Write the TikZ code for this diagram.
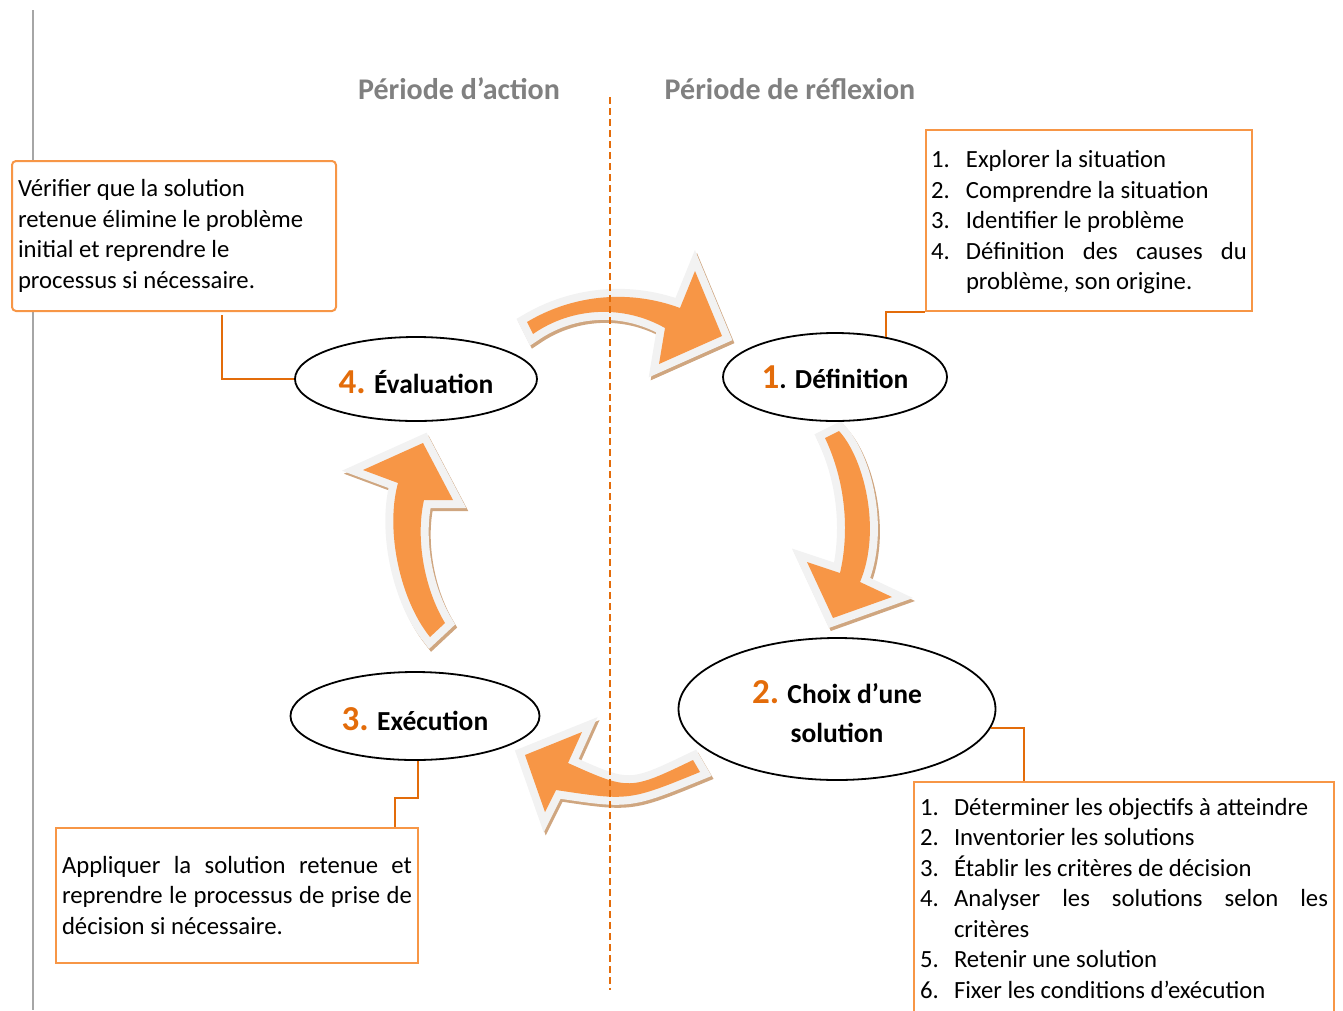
\documentclass[tikz,border=0pt]{standalone}
\usepackage{fontspec}
\setmainfont{Carlito}
\usetikzlibrary{shapes.geometric}
\definecolor{arrorange}{HTML}{F79646}
\definecolor{numor}{HTML}{E36C0A}
\definecolor{bordergray}{HTML}{F2F2F2}
\definecolor{shadowtan}{RGB}{207,166,128}
\definecolor{titlegray}{HTML}{808080}
\definecolor{sidegray}{HTML}{A6A6A6}
\definecolor{boxor}{HTML}{F79646}
\newcommand\officearrow[1]{%
  \path[arrshadow] #1;
  \path[arrborder] #1;
  \path[arrfill] #1;}
\newcommand\lstitem[3]{\par\noindent\hangindent=#1\hangafter=1\makebox[#1][l]{#2}#3\par}
\newcommand\bignum[1]{\textcolor{numor}{\fontsize{35}{40}\selectfont #1}}
\begin{document}
\begin{tikzpicture}[x=1pt,y=-1pt,
  arrshadow/.style={fill=shadowtan,draw=shadowtan,line width=16pt,line join=miter,shift={(2,3)}},
  arrborder/.style={fill=bordergray,draw=bordergray,line width=16pt,line join=miter},
  arrfill/.style={fill=arrorange},
  ell/.style={ellipse,draw=black,line width=1.8pt,inner sep=0pt,font=\fontsize{27.5}{39}\selectfont\bfseries,align=center},
  box/.style={draw=boxor,fill=white,line width=2pt,font=\fontsize{24.7}{30.5}\selectfont,anchor=north west,inner ysep=0pt},
  conn/.style={draw=numor,line width=2pt},
  title/.style={text=titlegray,font=\fontsize{30}{36}\selectfont\bfseries}]

\useasboundingbox (0,0) rectangle (1343,1010);

\draw[sidegray,line width=1.5pt] (33,10) -- (33,1010);

\node[title] (tact) at (459,89) {Période d’action};
\node[title] (trefl) at (790,89) {Période de réflexion};

% curved arrows
\officearrow{(527,322) .. controls (573.2,294.4) and (629.6,289.2) .. (680,308) -- (695,271) -- (722,336) -- (659,364) -- (665,328) .. controls (623.5,304.5) and (572.2,306.8) .. (533,334) -- cycle}
\officearrow{(839,431) .. controls (864,458) and (882,530) .. (860,582) -- (892,597) -- (833,618) -- (807,562) -- (840,573) .. controls (850,530) and (845,480) .. (825,438) -- cycle}
\officearrow{(693,760) .. controls (629.5,790.5) .. (568,763) -- (582,732) -- (525,755) -- (545,812) -- (556,790) .. controls (629,801) .. (700,772) -- cycle}
\officearrow{(445,623) .. controls (425,590) and (415,540) .. (424,500) -- (453,500) -- (423,443) -- (363,470) -- (398,483) .. controls (385,530) and (400,600) .. (430,637) -- cycle}

\draw[numor,line width=1.5pt,dash pattern=on 7pt off 4pt] (610,97) -- (610,990);

% ellipses
\node[ell,minimum width=242pt,minimum height=84pt] (eval) at (416,379) {\rule{0pt}{29pt}\bignum{4.} Évaluation};
\node[ell,minimum width=224pt,minimum height=88pt] (def) at (835,377) {\rule{0pt}{24pt}\bignum{1}. Définition};
\node[ell,minimum width=317pt,minimum height=142pt] (choix) at (837,709) {\rule{0pt}{28.5pt}\bignum{2.} Choix d’une\\solution};
\node[ell,minimum width=249pt,minimum height=88pt] (exec) at (415,716) {\rule{0pt}{30pt}\bignum{3.} Exécution};

% boxes
\node[box,rounded corners=4pt,minimum width=324pt,minimum height=150pt,text width=312pt,inner xsep=6pt,align=flush left] (boxTL) at (11,160)
  {Vérifier que la solution\\retenue élimine le problème\\initial et reprendre le\\processus si nécessaire.};
\node[box,minimum width=326pt,minimum height=181pt,text width=316pt,inner xsep=5pt,align=justify] (boxTR) at (925,129)
  {\lstitem{35pt}{1.}{Explorer la situation}\lstitem{35pt}{2.}{Comprendre la situation}\lstitem{35pt}{3.}{Identifier le problème}\lstitem{35pt}{4.}{Définition des causes du\linebreak problème, son origine.}\kern10pt};
\node[box,minimum width=362pt,minimum height=135pt,text width=350pt,inner xsep=6pt,align=justify] (boxBL) at (55,827)
  {Appliquer la solution retenue et\linebreak reprendre le processus de prise de\linebreak décision si nécessaire.};
\node[box,minimum width=420pt,minimum height=235pt,text width=408pt,inner xsep=6pt,align=justify] (boxBR) at (913,781)
  {\lstitem{34pt}{1.}{Déterminer les objectifs à atteindre}\lstitem{34pt}{2.}{Inventorier les solutions}\lstitem{34pt}{3.}{Établir les critères de décision}\lstitem{34pt}{4.}{Analyser les solutions selon les\linebreak critères}\lstitem{34pt}{5.}{Retenir une solution}\lstitem{34pt}{6.}{Fixer les conditions d’exécution}\kern16pt};

% connectors
\draw[conn] (eval.west) -| ([xshift=211pt,yshift=-3pt]boxTL.south west);
\draw[conn] (def.38) |- (boxTR.south west);
\draw[conn] (choix.-7) -| ([xshift=111pt]boxBR.north west);
\draw[conn] ([xshift=3pt]exec.south) -- ++(0,37) -| ([xshift=340pt]boxBL.north west);
\end{tikzpicture}
\end{document}
